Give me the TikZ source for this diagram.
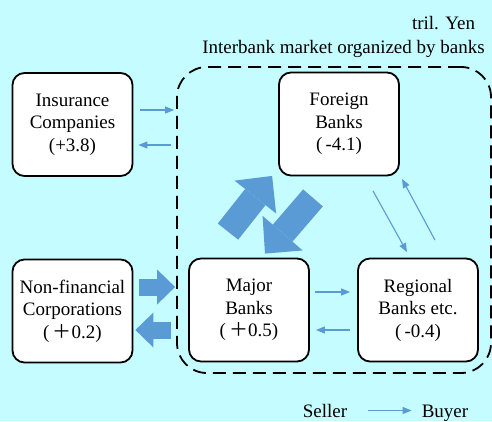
\documentclass[tikz,border=0pt]{standalone}
\usepackage{fontspec}
\setmainfont{Liberation Serif}
\newfontfamily\cjk{Noto Sans CJK JP}
\usepackage{tikz}
\usetikzlibrary{arrows.meta,calc,positioning}
\definecolor{skyback}{RGB}{197,252,255}
\definecolor{flowblue}{RGB}{91,155,213}

\begin{document}
\begin{tikzpicture}[x=1pt,y=1pt,font=\fontsize{19}{22.5}\selectfont,
  unit/.style={draw,fill=white,line width=1.8pt,rounded corners=12pt,align=center,
    minimum width=120pt,minimum height=103pt,inner sep=0pt},
  market/.style={draw,line width=1.8pt,dash pattern=on 13pt off 7pt,rounded corners=30pt,
    minimum width=314pt,minimum height=306pt,inner sep=0pt},
  link/.style={draw=flowblue,line width=1.1pt,-{Triangle[length=9pt,width=7pt]}},
  push/.style={draw=flowblue,line cap=butt,line width=17pt,
    -{Triangle[length=18pt 0 0,width=35pt 0 0,line width=0pt 0 0]}},
  swap/.style={draw=flowblue,line cap=butt,line width=26pt,
    -{Triangle[length=27pt 0 0,width=53pt 0 0,line width=0pt 0 0]}}]
\path[use as bounding box,fill=skyback] (0,0) rectangle (492,421);
\node (U) at (443.5,398) {tril. Yen};
\node (T) at (343.5,372) {Interbank market organized by banks};
\node[market] (IM) at (334,201) {};
\node[unit] (MB) at (249,111) {Major\\Banks\\(\,{\cjk ＋}0.5)};
\path (MB)
    to +(169,0) node[unit] (RB) {Regional\\Banks etc.\\(\,-0.4)}
    to +(90,186) node[unit] (FB) {Foreign\\Banks\\(\,-4.1)}
    to +(-176.5,-1) node[unit] (NC) {Non-financial\\Corporations\\(\,{\cjk ＋}0.2)}
    to +(-176.5,185.5) node[unit] (IC) {Insurance\\Companies\\(+3.8)}
    ;
% thin flows
\draw[link] ($(IC.east)+(7,14.5)$) -- ($(IC.east -| IM.west)+(-2,14.5)$);
\draw[link] ($(IC.east -| IM.west)+(-5,-20.5)$) -- ($(IC.east)+(5,-20.5)$);
\draw[link] ($(MB.east)+(5,18)$) -- ($(RB.west)+(-7,18)$);
\draw[link] ($(RB.west)+(-7,-20)$) -- ($(MB.east)+(6,-20)$);
\draw[link] ($(FB.south)+(34,-14.5)$) -- ($(RB.north)+(-11,5.5)$);
\draw[link] ($(RB.north)+(17,17.5)$) -- ($(FB.south)+(63,-2.5)$);
% big flows
\draw[push] ($(NC.east)+(6,24)$) -- ($(NC.east -| IM.west)+(-1,24)$);
\draw[push] ($(NC.east -| IM.west)+(-5,-19)$) -- ($(NC.east)+(2,-19)$);
\draw[swap] ($(MB.north)+(-21,26)$) -- ($(FB.south west)+(-6,0.5)$);
\draw[swap] ($(FB.south)+(-26,-21.5)$) -- ($(MB.north)+(16,4)$);
% legend
\node[anchor=base,inner sep=0pt] (S) at (325,4) {Seller};
\node[anchor=base,inner sep=0pt] (B) at (445,4) {Buyer};
\draw[link] ($(S.base east)+(20.5,6.5)$) -- ($(B.base west)+(-10,6.5)$);
\end{tikzpicture}
\end{document}
